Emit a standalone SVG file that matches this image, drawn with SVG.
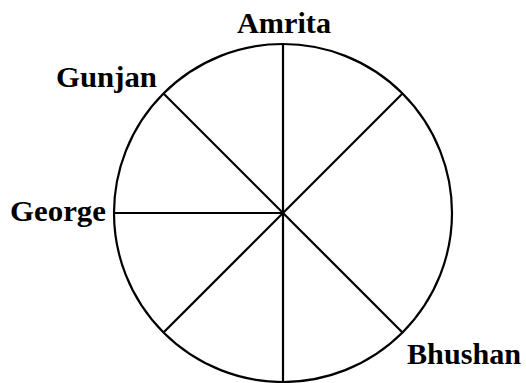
<svg xmlns="http://www.w3.org/2000/svg" width="526" height="383" viewBox="0 0 526 383">
<style>
.l{stroke:#000;stroke-width:2.2;fill:none}
.t{font-family:"Liberation Serif","Times New Roman",serif;font-weight:bold;font-size:29px;fill:#000}
</style>
<rect width="526" height="383" fill="#fff"/>
<g id="wheel">
<circle class="l" cx="283" cy="213" r="169"/>
</g>
<g id="connectors">
<line class="l" x1="283" y1="44" x2="283" y2="383"/>
<line class="l" x1="114" y1="213" x2="283" y2="213"/>
<line class="l" x1="163.5" y1="93.5" x2="402.5" y2="332.5"/>
<line class="l" x1="402.5" y1="93.5" x2="163.5" y2="332.5"/>
</g>
<g id="amrita"><text class="t" x="237" y="33" textLength="94" lengthAdjust="spacingAndGlyphs">Amrita</text></g>
<g id="gunjan"><text class="t" x="56" y="87" textLength="101" lengthAdjust="spacingAndGlyphs">Gunjan</text></g>
<g id="george"><text class="t" x="10" y="221" textLength="96" lengthAdjust="spacingAndGlyphs">George</text></g>
<g id="bhushan"><text class="t" x="407" y="364" textLength="114" lengthAdjust="spacingAndGlyphs">Bhushan</text></g>
</svg>
